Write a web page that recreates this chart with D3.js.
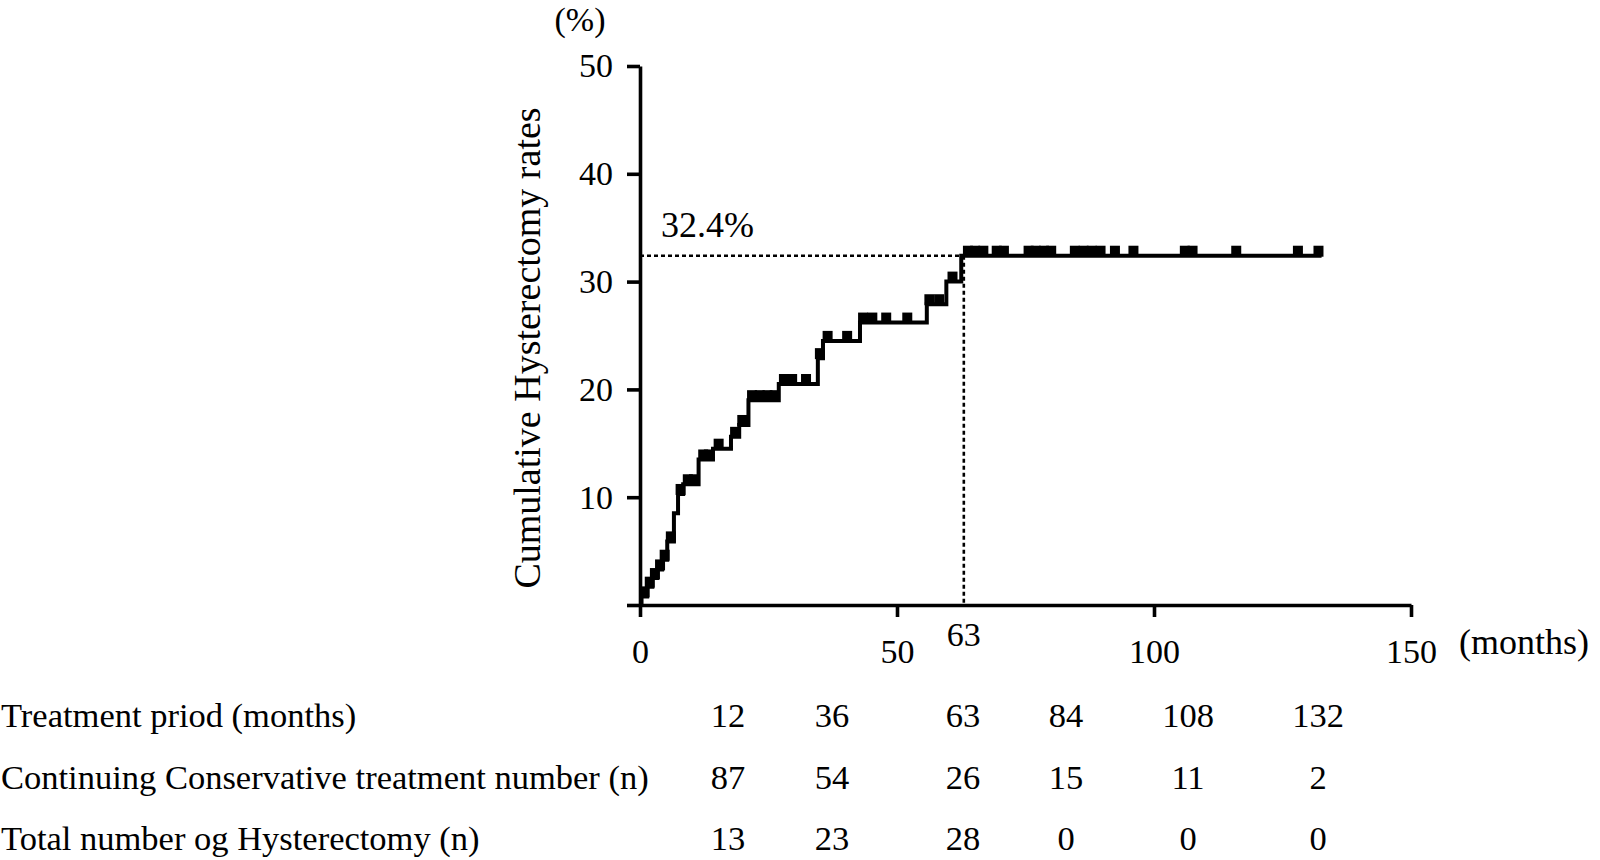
<!DOCTYPE html>
<html>
<head>
<meta charset="utf-8">
<script src="https://cdn.jsdelivr.net/npm/d3@7"></script>
<style>
  body { margin: 0; background: #fff; }
  svg text { font-family: "Liberation Serif", "Times New Roman", serif; fill: #000; }
</style>
</head>
<body>
<svg id="chart" width="1600" height="860"></svg>
<script>
// step times (months) and cumulative hysterectomy rate (%) after each step
var stepTimes = [0.3, 1.4, 2.4, 3.4, 4.3, 5.3, 6.6, 7.4, 8.4, 11.4, 14.2, 17.7, 19.3, 21.1, 27.0, 34.6, 35.6, 42.8, 55.8, 59.6, 62.5];
var stepRates = [0.8, 1.7, 2.5, 3.3, 4.2, 5.9, 8.5, 10.3, 11.2, 13.5, 14.5, 15.6, 16.7, 19.0, 20.5, 22.9, 24.5, 26.2, 27.9, 30.0, 32.4];
var lastFollowUp = 132.6;

// censored observations (months)
var censorTimes = [0.9, 1.9, 2.9, 3.9, 4.8, 6.0, 7.9, 9.3, 10.5, 12.3, 13.4, 15.3, 18.5, 19.9,
  21.8, 23.3, 24.8, 26.2, 28.0, 29.6, 32.3, 35.0, 36.5, 40.3, 43.4, 45.2, 47.9, 52.0, 56.3, 58.2, 60.8,
  63.8, 65.2, 66.8, 69.4, 70.8, 75.6, 77.0, 78.6, 80.0, 84.6, 86.3, 87.9, 89.6, 92.4, 96.0,
  106.0, 107.5, 116.0, 128.0, 132.0];

var markTime = 63;
var markRate = 32.4;

var xTicks = [0, 50, 100, 150];
var yTicks = [0, 10, 20, 30, 40, 50];

// number-at-risk table
var rowLabels = [
  "Treatment priod (months)",
  "Continuing Conservative treatment number (n)",
  "Total number og Hysterectomy (n)"
];
var periods = [12, 36, 63, 84, 108, 132];
var continuing = [87, 54, 26, 15, 11, 2];
var hysterectomies = [13, 23, 28, 0, 0, 0];

var svg = d3.select("#chart");

var x = d3.scaleLinear().domain([0, 150]).range([640, 1411]);
var y = d3.scaleLinear().domain([0, 50]).range([605, 66]);

// axes
var yAxis = d3.axisLeft(y)
  .tickValues(yTicks)
  .tickSize(13)
  .tickSizeOuter(0)
  .tickPadding(14)
  .tickFormat(function(d) { return d === 0 ? "" : d; });

svg.append("g")
  .attr("class", "y-axis")
  .attr("transform", "translate(" + x(0) + ",0)")
  .call(yAxis);

var xAxis = d3.axisBottom(x)
  .tickValues(xTicks)
  .tickSize(12)
  .tickSizeOuter(0)
  .tickPadding(22);

svg.append("g")
  .attr("class", "x-axis")
  .attr("transform", "translate(0," + y(0) + ")")
  .call(xAxis);

svg.selectAll(".x-axis path, .x-axis line, .y-axis path, .y-axis line")
  .attr("stroke", "#000")
  .attr("stroke-width", 3.6);
svg.selectAll(".x-axis text, .y-axis text")
  .attr("font-size", 34)
  .attr("fill", "#000");

// dotted reference lines for 32.4% at 63 months
svg.append("line")
  .attr("x1", x(0)).attr("x2", x(markTime))
  .attr("y1", y(markRate)).attr("y2", y(markRate))
  .attr("stroke", "#000").attr("stroke-width", 2.6)
  .attr("stroke-dasharray", "4,3");
svg.append("line")
  .attr("x1", x(markTime)).attr("x2", x(markTime))
  .attr("y1", y(markRate)).attr("y2", y(0))
  .attr("stroke", "#000").attr("stroke-width", 2.6)
  .attr("stroke-dasharray", "4,3");

// cumulative curve
var curve = [[0, 0]];
stepTimes.forEach(function(t, i) { curve.push([t, stepRates[i]]); });
curve.push([lastFollowUp, stepRates[stepRates.length - 1]]);

var line = d3.line()
  .x(function(d) { return x(d[0]); })
  .y(function(d) { return y(d[1]); })
  .curve(d3.curveStepAfter);

svg.append("path")
  .datum(curve)
  .attr("d", line)
  .attr("fill", "none")
  .attr("stroke", "#000")
  .attr("stroke-width", 4);

function rateAt(t) {
  var r = 0;
  stepTimes.forEach(function(s, i) { if (s <= t) r = stepRates[i]; });
  return r;
}

svg.selectAll(".censor")
  .data(censorTimes)
  .enter()
  .append("rect")
  .attr("class", "censor")
  .attr("x", function(d) { return x(d) - 5; })
  .attr("y", function(d) { return y(rateAt(d)) - 10; })
  .attr("width", 10)
  .attr("height", 11)
  .attr("fill", "#000");

// labels
svg.append("text")
  .attr("transform", "translate(540,348) rotate(-90)")
  .attr("text-anchor", "middle")
  .attr("font-size", 38)
  .text("Cumulative Hysterectomy rates");

svg.append("text")
  .attr("x", 580).attr("y", 31)
  .attr("text-anchor", "middle")
  .attr("font-size", 34)
  .text("(%)");

svg.append("text")
  .attr("x", 1459).attr("y", 654)
  .attr("font-size", 36)
  .text("(months)");

svg.append("text")
  .attr("x", 661).attr("y", 237)
  .attr("font-size", 36)
  .text(markRate + "%");

svg.append("text")
  .attr("x", x(markTime)).attr("y", 646)
  .attr("text-anchor", "middle")
  .attr("font-size", 34)
  .text(markTime);

// table below the chart
var colX = [728, 832, 963, 1066, 1188, 1318];
var rowY = [727, 789, 850];
var rows = [periods, continuing, hysterectomies];

rowLabels.forEach(function(label, i) {
  svg.append("text")
    .attr("x", 1).attr("y", rowY[i])
    .attr("font-size", 34.5)
    .text(label);

  svg.selectAll(".row" + i)
    .data(rows[i])
    .enter()
    .append("text")
    .attr("class", "row" + i)
    .attr("x", function(d, j) { return colX[j]; })
    .attr("y", rowY[i])
    .attr("text-anchor", "middle")
    .attr("font-size", 34.5)
    .text(function(d) { return d; });
});
</script>
</body>
</html>
